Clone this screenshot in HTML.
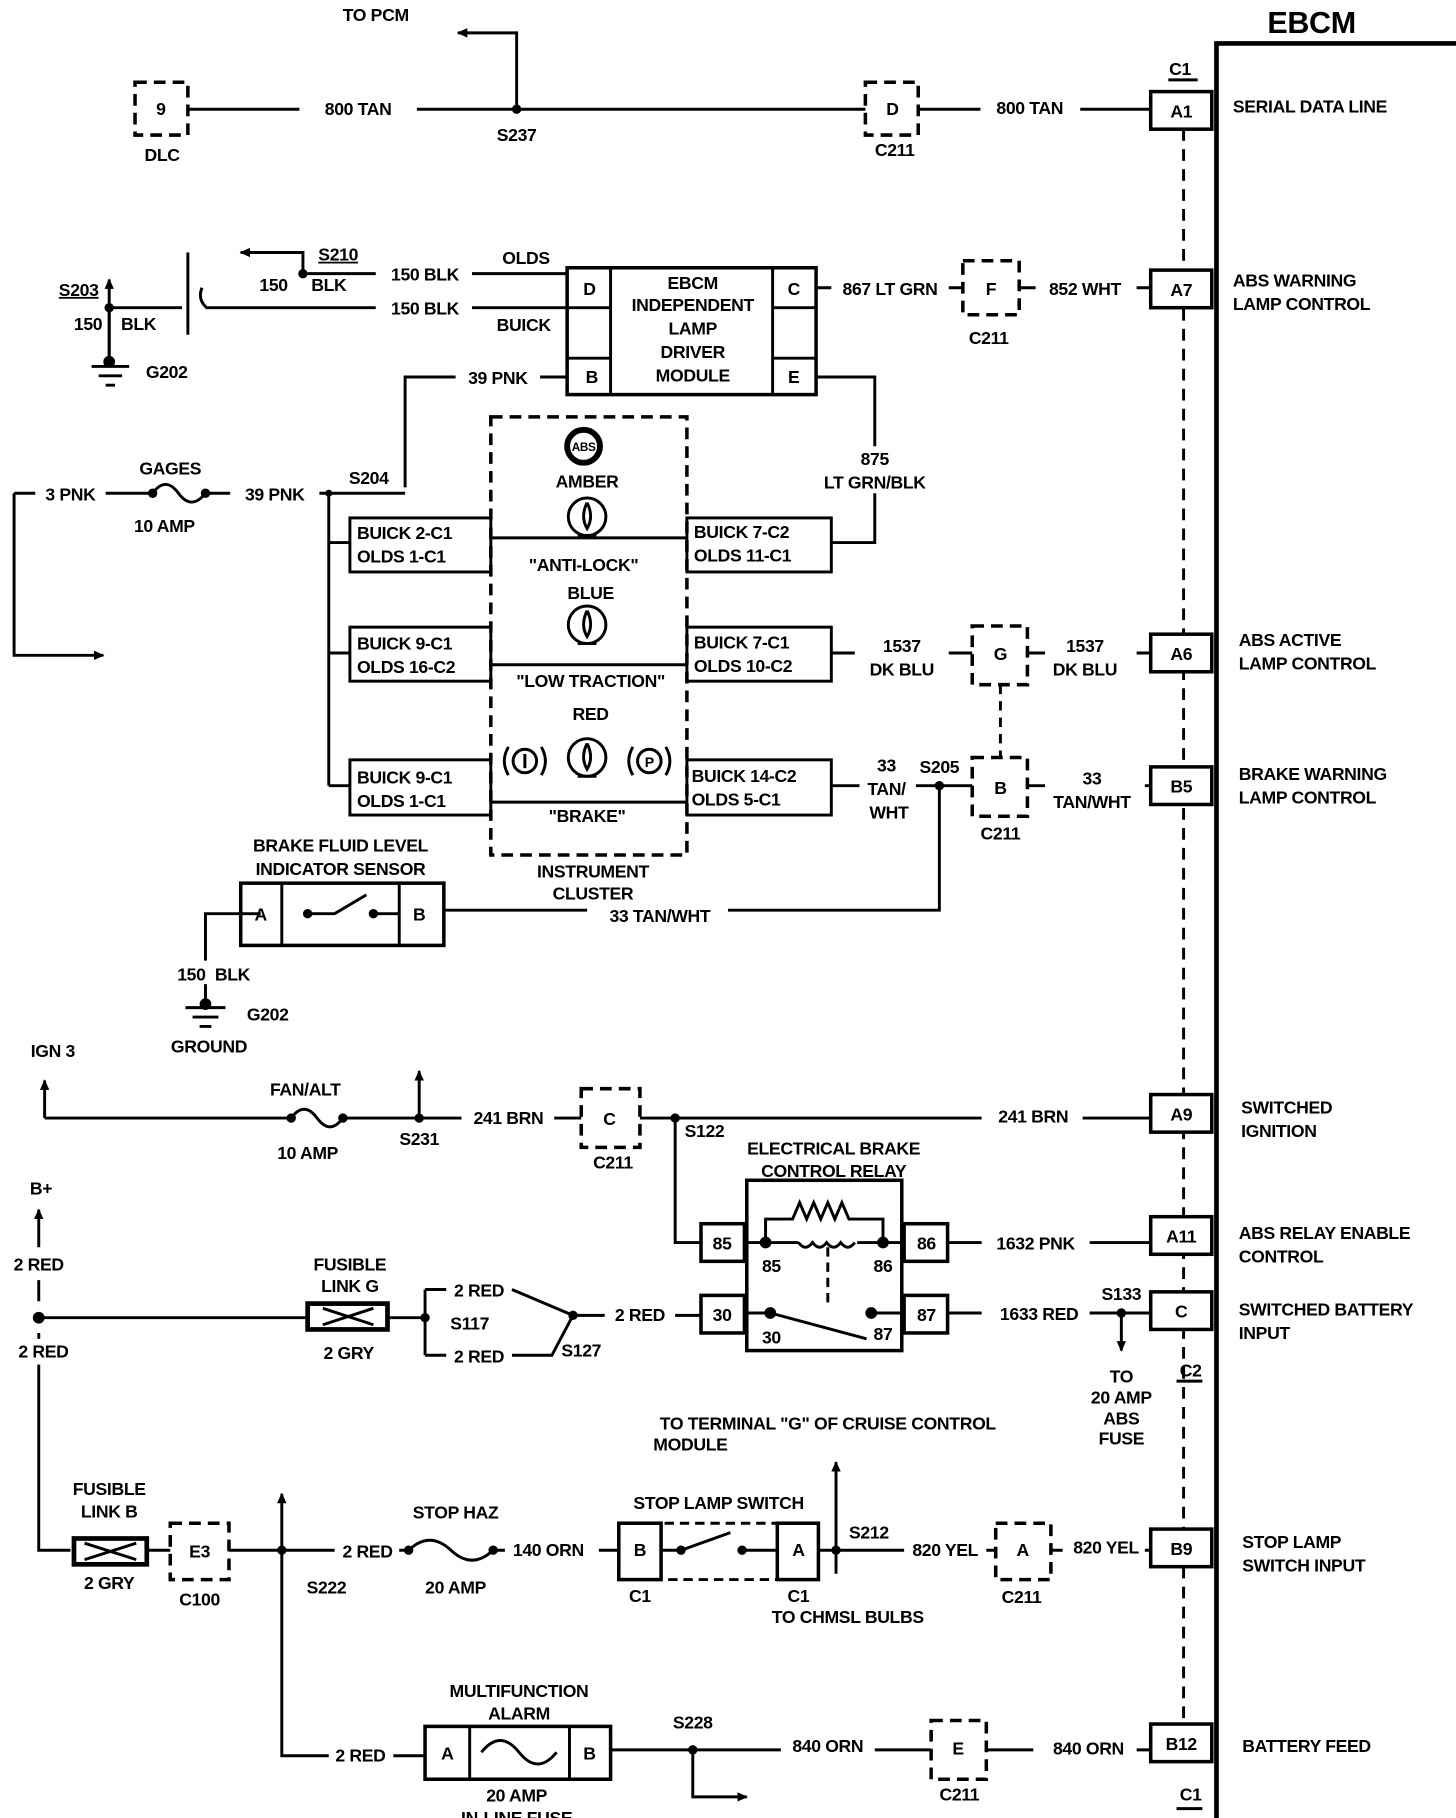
<!DOCTYPE html>
<html><head><meta charset="utf-8"><style>
html,body{margin:0;padding:0;background:#fff;}
svg{display:block}
text{font-family:"Liberation Sans",sans-serif;font-weight:bold;font-size:15px;fill:#000;text-anchor:middle;letter-spacing:-0.3px}
.l{text-anchor:start}
</style></head><body>
<svg width="1456" height="1818" viewBox="0 0 1240 1548" preserveAspectRatio="none" xmlns="http://www.w3.org/2000/svg">
<defs>
<marker id="ar" markerWidth="10" markerHeight="10" refX="8" refY="5" orient="auto" markerUnits="userSpaceOnUse"><path d="M0,1 L9,5 L0,9 Z" fill="#000"/></marker>
</defs>
<g fill="none" stroke="#000" stroke-width="2.5">
<!-- EBCM -->
<path d="M1036,1560 V37 H1240" stroke-width="4"/>
<path d="M1008,110 V1468" stroke-dasharray="10 7"/>
<!-- right terminal boxes -->
<g fill="#fff">
<rect x="980" y="78" width="52" height="32" stroke-width="3"/>
<rect x="980" y="230" width="52" height="32" stroke-width="3"/>
<rect x="980" y="540" width="52" height="32" stroke-width="3"/>
<rect x="980" y="653" width="52" height="32" stroke-width="3"/>
<rect x="980" y="932" width="52" height="32" stroke-width="3"/>
<rect x="980" y="1036" width="52" height="32" stroke-width="3"/>
<rect x="980" y="1100" width="52" height="32" stroke-width="3"/>
<rect x="980" y="1302" width="52" height="32" stroke-width="3"/>
<rect x="980" y="1468" width="52" height="32" stroke-width="3"/>
</g>
<path d="M995,68 H1020 M1002,1540 H1024 M1002,1176 H1024"/>

<!-- top row -->
<rect x="115" y="70" width="45" height="45" stroke-dasharray="10 6" stroke-width="3"/>
<path d="M160,93 H255 M355,93 H737 M782,93 H835 M920,93 H980"/>
<path d="M440,93 V28 H390" marker-end="url(#ar)"/>
<rect x="737" y="70" width="45" height="45" stroke-dasharray="10 6" stroke-width="3"/>

<!-- lamp driver module -->
<rect x="483" y="228" width="212" height="108" stroke-width="3"/>
<path d="M520,228 V336 M658,228 V336 M483,262 H520 M483,305 H520 M658,262 H695 M658,305 H695"/>
<path d="M262,233 H320 M402,233 H483 M175,262 H320 M402,262 H483"/>
<path d="M258,233 V215 H205" marker-end="url(#ar)"/>
<path d="M160,215 V285 M172,245 Q168,255 176,262"/>
<path d="M93,262 H155 M93,305 V238" marker-end="url(#ar)"/>
<path d="M93,262 V305"/>
<path d="M78,312 H110 M84,320 H104 M90,328 H98"/>
<path d="M695,245 H708 M808,245 H820"/>
<rect x="820" y="222" width="48" height="46" stroke-dasharray="10 6" stroke-width="3"/>
<path d="M868,245 H882 M968,245 H980"/>
<path d="M345,415 V321 H388 M460,321 H483"/>
<path d="M695,321 H745 V380 M745,420 V462 H708"/>

<!-- left gages -->
<path d="M12,420 H30 M90,420 H130 M175,420 H196 M272,420 H345"/>
<path d="M130,420 Q141,405 152,420 Q163,435 175,420"/>
<path d="M12,420 V558 H88" marker-end="url(#ar)"/>
<path d="M280,420 V669 M280,462 H298 M280,556 H298 M280,669 H298"/>
<rect x="298" y="441" width="120" height="46"/>
<rect x="298" y="534" width="120" height="46"/>
<rect x="298" y="647" width="120" height="47"/>
<rect x="585" y="441" width="123" height="46"/>
<rect x="585" y="534" width="123" height="46"/>
<rect x="585" y="647" width="123" height="47"/>
<rect x="418" y="355" width="167" height="373" stroke-dasharray="10 6" stroke-width="3"/>
<path d="M418,458 H585 M418,566 H585 M418,683 H585"/>
<circle cx="497" cy="380" r="14" stroke-width="5"/>
<circle cx="500" cy="440" r="16"/><path d="M500,428 Q494,440 500,450 Q506,440 500,428 M492,456 H508"/>
<circle cx="500" cy="532" r="16"/><path d="M500,520 Q494,532 500,542 Q506,532 500,520 M492,548 H508"/>
<circle cx="500" cy="645" r="16"/><path d="M500,633 Q494,645 500,655 Q506,645 500,633 M492,661 H508"/>
<circle cx="447" cy="648" r="10"/><circle cx="553" cy="648" r="10"/>
<path d="M433,636 Q426,648 433,660 M461,636 Q468,648 461,660 M539,636 Q532,648 539,660 M567,636 Q574,648 567,660 M447,642 V654"/>
<path d="M708,556 H728 M808,556 H828 M875,556 H890 M968,556 H980"/>
<rect x="828" y="533" width="47" height="50" stroke-dasharray="10 6" stroke-width="3"/>
<path d="M852,583 V645" stroke-dasharray="8 6"/>
<rect x="828" y="645" width="47" height="50" stroke-dasharray="10 6" stroke-width="3"/>
<path d="M708,669 H732 M780,669 H828 M875,669 H890 M975,669 H980"/>
<path d="M800,669 V775 H620 M500,775 H378"/>
<!-- brake fluid sensor -->
<rect x="205" y="752" width="173" height="53" stroke-width="3"/>
<path d="M240,752 V805 M340,752 V805 M262,778 H285 L312,762 M318,778 H340"/>
<path d="M222,778 H175 V818 M175,838 V855 M158,858 H192 M164,866 H186 M170,874 H180"/>

<!-- IGN row -->
<path d="M38,952 V920" marker-end="url(#ar)"/>
<path d="M38,952 H248 M292,952 H393 M472,952 H495 M545,952 H836 M922,952 H980"/>
<path d="M248,952 Q259,937 270,952 Q281,967 292,952"/>
<path d="M357,952 V912" marker-end="url(#ar)"/>
<rect x="495" y="927" width="50" height="50" stroke-dasharray="10 6" stroke-width="3"/>
<path d="M575,952 V1058 H597"/>
<!-- relay -->
<rect x="636" y="1005" width="132" height="145" stroke-width="3"/>
<rect x="597" y="1042" width="37" height="32" stroke-width="3"/>
<rect x="770" y="1042" width="37" height="32" stroke-width="3"/>
<rect x="597" y="1103" width="37" height="32" stroke-width="3"/>
<rect x="770" y="1103" width="37" height="32" stroke-width="3"/>
<path d="M636,1058 H680 M730,1058 H768 M652,1058 V1038 H675 L681,1024 L687,1038 L693,1024 L699,1038 L705,1024 L711,1038 L717,1024 L723,1038 H752 V1058"/>
<path d="M680,1058 Q686,1066 692,1058 Q698,1066 704,1058 Q710,1066 716,1058 Q722,1066 728,1058"/>
<path d="M705,1062 V1112" stroke-dasharray="8 5"/>
<path d="M636,1118 H656 L738,1140 M742,1118 H768"/>
<path d="M807,1058 H836 M928,1058 H980 M807,1118 H836 M928,1118 H980"/>
<path d="M955,1118 V1150" marker-end="url(#ar)"/>
<!-- B+ -->
<path d="M33,1062 V1030" marker-end="url(#ar)"/>
<path d="M33,1090 V1108 M33,1135 V1140 M33,1162 V1320 H60"/>
<path d="M33,1122 H262 M330,1122 H362"/>
<rect x="262" y="1110" width="68" height="22" stroke-width="4"/>
<path d="M275,1114 L318,1128 M275,1128 L318,1114"/>
<path d="M362,1098 V1154 M362,1098 H380 M362,1154 H380 M436,1098 L488,1120 L470,1154 H436 M488,1120 H515 M575,1120 H597"/>
<!-- stop lamp row -->
<rect x="63" y="1310" width="62" height="22" stroke-width="4"/>
<path d="M72,1314 L116,1328 M72,1328 L116,1314"/>
<rect x="145" y="1297" width="50" height="48" stroke-dasharray="10 6" stroke-width="3"/>
<path d="M125,1320 H145 M195,1320 H285 M340,1320 H348 M420,1320 H430 M510,1320 H527"/>
<path d="M348,1320 Q366,1303 384,1320 Q402,1337 420,1320"/>
<path d="M240,1320 V1272" marker-end="url(#ar)"/>
<path d="M240,1320 V1495 H280"/>
<rect x="527" y="1297" width="170" height="48" stroke-dasharray="8 5"/>
<rect x="527" y="1297" width="36" height="48" stroke-width="3"/>
<rect x="662" y="1297" width="35" height="48" stroke-width="3"/>
<path d="M563,1320 H580 L622,1305 M632,1320 H662"/>
<path d="M697,1320 H770 M840,1320 H848 M895,1320 H905 M975,1320 H980"/>
<path d="M712,1340 V1245" marker-end="url(#ar)"/>
<rect x="848" y="1297" width="47" height="48" stroke-dasharray="10 6" stroke-width="3"/>
<!-- bottom row -->
<rect x="362" y="1470" width="158" height="45" stroke-width="3"/>
<path d="M400,1470 V1515 M485,1470 V1515 M410,1492 Q426,1472 442,1492 Q458,1512 474,1492"/>
<path d="M335,1495 H362 M520,1490 H665 M745,1490 H793 M840,1490 H880 M968,1490 H980"/>
<path d="M590,1490 V1530 H636" marker-end="url(#ar)"/>
<rect x="793" y="1465" width="47" height="50" stroke-dasharray="10 6" stroke-width="3"/>
</g>
<g fill="#000">
<circle cx="440" cy="93" r="4"/><circle cx="258" cy="233" r="4"/><circle cx="93" cy="262" r="4"/><circle cx="93" cy="308" r="5"/>
<circle cx="280" cy="420" r="3"/><circle cx="130" cy="420" r="4"/><circle cx="175" cy="420" r="4"/>
<circle cx="800" cy="669" r="4"/><circle cx="262" cy="778" r="4"/><circle cx="318" cy="778" r="4"/><circle cx="175" cy="855" r="5"/>
<circle cx="357" cy="952" r="4"/><circle cx="575" cy="952" r="4"/><circle cx="248" cy="952" r="4"/><circle cx="292" cy="952" r="4"/>
<circle cx="652" cy="1058" r="5"/><circle cx="752" cy="1058" r="5"/><circle cx="656" cy="1118" r="5"/><circle cx="742" cy="1118" r="5"/>
<circle cx="955" cy="1118" r="4"/><circle cx="33" cy="1122" r="5"/><circle cx="362" cy="1122" r="4"/><circle cx="488" cy="1120" r="4"/>
<circle cx="240" cy="1320" r="4"/><circle cx="712" cy="1320" r="4"/><circle cx="580" cy="1320" r="4"/><circle cx="632" cy="1320" r="4"/>
<circle cx="590" cy="1490" r="4"/><circle cx="348" cy="1320" r="4"/><circle cx="420" cy="1320" r="4"/>
</g>

<text x="1117" y="28" style="font-size:26px">EBCM</text>
<text x="1005" y="64">C1</text>
<text x="1006" y="100">A1</text><text x="1006" y="252">A7</text><text x="1006" y="562">A6</text><text x="1006" y="675">B5</text>
<text x="1006" y="954">A9</text><text x="1006" y="1058">A11</text><text x="1006" y="1122">C</text><text x="1006" y="1324">B9</text><text x="1006" y="1490">B12</text>
<text x="1014" y="1172">C2</text><text x="1014" y="1533">C1</text>
<text class="l" x="1050" y="96">SERIAL DATA LINE</text>
<text class="l" x="1050" y="244">ABS WARNING</text><text class="l" x="1050" y="264">LAMP CONTROL</text>
<text class="l" x="1055" y="550">ABS ACTIVE</text><text class="l" x="1055" y="570">LAMP CONTROL</text>
<text class="l" x="1055" y="664">BRAKE WARNING</text><text class="l" x="1055" y="684">LAMP CONTROL</text>
<text class="l" x="1057" y="948">SWITCHED</text><text class="l" x="1057" y="968">IGNITION</text>
<text class="l" x="1055" y="1055">ABS RELAY  ENABLE</text><text class="l" x="1055" y="1075">CONTROL</text>
<text class="l" x="1055" y="1120">SWITCHED BATTERY</text><text class="l" x="1055" y="1140">INPUT</text>
<text class="l" x="1058" y="1318">STOP LAMP</text><text class="l" x="1058" y="1338">SWITCH INPUT</text>
<text class="l" x="1058" y="1492">BATTERY FEED</text>

<text x="320" y="18">TO PCM</text>
<text x="137" y="98">9</text><text x="138" y="137">DLC</text>
<text x="305" y="98">800 TAN</text><text x="440" y="120">S237</text>
<text x="760" y="98">D</text><text x="762" y="133">C211</text><text x="877" y="97">800 TAN</text>

<text x="590" y="246">EBCM</text><text x="590" y="265">INDEPENDENT</text><text x="590" y="285">LAMP</text><text x="590" y="305">DRIVER</text><text x="590" y="325">MODULE</text>
<text x="502" y="251">D</text><text x="504" y="326">B</text><text x="676" y="251">C</text><text x="676" y="326">E</text>
<text x="448" y="225">OLDS</text><text x="446" y="282">BUICK</text>
<text x="362" y="239">150 BLK</text><text x="362" y="268">150 BLK</text>
<text x="288" y="222" style="text-decoration:underline">S210</text><text x="233" y="248">150</text><text x="280" y="248">BLK</text>
<text x="67" y="252" style="text-decoration:underline">S203</text><text x="75" y="281">150</text><text x="118" y="281">BLK</text>
<text x="142" y="322">G202</text>
<text x="758" y="251">867 LT GRN</text><text x="844" y="251">F</text><text x="924" y="251">852 WHT</text><text x="842" y="293">C211</text>
<text x="424" y="327">39 PNK</text>
<text x="745" y="396">875</text><text x="745" y="416">LT GRN/BLK</text>
<text x="60" y="426">3 PNK</text><text x="145" y="404">GAGES</text><text x="140" y="453">10 AMP</text><text x="234" y="426">39 PNK</text><text x="314" y="412">S204</text>
<text class="l" x="304" y="459">BUICK 2-C1</text><text class="l" x="304" y="479">OLDS 1-C1</text>
<text class="l" x="304" y="553">BUICK 9-C1</text><text class="l" x="304" y="573">OLDS 16-C2</text>
<text class="l" x="304" y="667">BUICK 9-C1</text><text class="l" x="304" y="687">OLDS 1-C1</text>
<text class="l" x="591" y="458">BUICK 7-C2</text><text class="l" x="591" y="478">OLDS 11-C1</text>
<text class="l" x="591" y="552">BUICK 7-C1</text><text class="l" x="591" y="572">OLDS 10-C2</text>
<text class="l" x="589" y="666">BUICK 14-C2</text><text class="l" x="589" y="686">OLDS 5-C1</text>
<text x="497" y="384" style="font-size:10px">ABS</text>
<text x="500" y="415">AMBER</text><text x="497" y="486">"ANTI-LOCK"</text><text x="503" y="510">BLUE</text>
<text x="503" y="585">"LOW TRACTION"</text><text x="503" y="613">RED</text><text x="500" y="700">"BRAKE"</text>
<text x="447" y="653" style="font-size:13px">!</text><text x="553" y="653" style="font-size:12px">P</text>
<text x="505" y="747">INSTRUMENT</text><text x="505" y="766">CLUSTER</text>
<text x="768" y="555">1537</text><text x="768" y="575">DK BLU</text><text x="852" y="562">G</text>
<text x="924" y="555">1537</text><text x="924" y="575">DK BLU</text>
<text x="755" y="657">33</text><text x="755" y="677">TAN/</text><text x="757" y="697">WHT</text><text x="800" y="658">S205</text>
<text x="852" y="676">B</text><text x="852" y="715">C211</text><text x="930" y="668">33</text><text x="930" y="688">TAN/WHT</text>
<text x="290" y="725">BRAKE FLUID LEVEL</text><text x="290" y="745">INDICATOR SENSOR</text>
<text x="222" y="784">A</text><text x="357" y="784">B</text><text x="562" y="785">33 TAN/WHT</text>
<text x="163" y="835">150</text><text x="198" y="835">BLK</text><text x="228" y="869">G202</text><text x="178" y="896">GROUND</text>

<text x="45" y="900">IGN 3</text><text x="260" y="933">FAN/ALT</text><text x="262" y="987">10  AMP</text><text x="357" y="975">S231</text>
<text x="433" y="957">241 BRN</text><text x="519" y="958">C</text><text x="522" y="995">C211</text><text x="600" y="968">S122</text>
<text x="880" y="956">241 BRN</text>
<text x="710" y="983">ELECTRICAL BRAKE</text><text x="710" y="1002">CONTROL RELAY</text>
<text x="615" y="1064">85</text><text x="657" y="1083">85</text><text x="752" y="1083">86</text><text x="789" y="1064">86</text>
<text x="615" y="1125">30</text><text x="657" y="1144">30</text><text x="752" y="1141">87</text><text x="789" y="1125">87</text>
<text x="882" y="1064">1632 PNK</text><text x="885" y="1124">1633 RED</text><text x="955" y="1107">S133</text>
<text x="955" y="1177">TO</text><text x="955" y="1195">20 AMP</text><text x="955" y="1213">ABS</text><text x="955" y="1230">FUSE</text>
<text x="35" y="1017">B+</text><text x="33" y="1082">2 RED</text><text x="37" y="1156">2 RED</text>
<text x="298" y="1082">FUSIBLE</text><text x="298" y="1100">LINK G</text><text x="297" y="1157">2 GRY</text>
<text x="408" y="1104">2 RED</text><text x="400" y="1132">S117</text><text x="408" y="1160">2 RED</text><text x="495" y="1155">S127</text><text x="545" y="1125">2 RED</text>
<text x="705" y="1217">TO TERMINAL "G" OF CRUISE CONTROL</text><text x="588" y="1235">MODULE</text>
<text x="93" y="1273">FUSIBLE</text><text x="93" y="1292">LINK B</text><text x="93" y="1353">2 GRY</text>
<text x="170" y="1326">E3</text><text x="170" y="1367">C100</text><text x="278" y="1357">S222</text>
<text x="313" y="1326">2 RED</text><text x="388" y="1293">STOP HAZ</text><text x="388" y="1357">20 AMP</text><text x="467" y="1325">140 ORN</text>
<text x="612" y="1285">STOP LAMP SWITCH</text><text x="545" y="1325">B</text><text x="680" y="1325">A</text>
<text x="545" y="1364">C1</text><text x="680" y="1364">C1</text><text x="722" y="1382">TO CHMSL BULBS</text>
<text x="740" y="1310">S212</text><text x="805" y="1325">820 YEL</text><text x="871" y="1325">A</text><text x="870" y="1365">C211</text><text x="942" y="1323">820 YEL</text>
<text x="442" y="1445">MULTIFUNCTION</text><text x="442" y="1464">ALARM</text>
<text x="381" y="1498">A</text><text x="502" y="1498">B</text><text x="307" y="1500">2 RED</text>
<text x="440" y="1534">20 AMP</text><text x="440" y="1553">IN-LINE FUSE</text>
<text x="590" y="1472">S228</text><text x="705" y="1492">840 ORN</text><text x="816" y="1494">E</text><text x="817" y="1533">C211</text><text x="927" y="1494">840 ORN</text>
</svg>
</body></html>
